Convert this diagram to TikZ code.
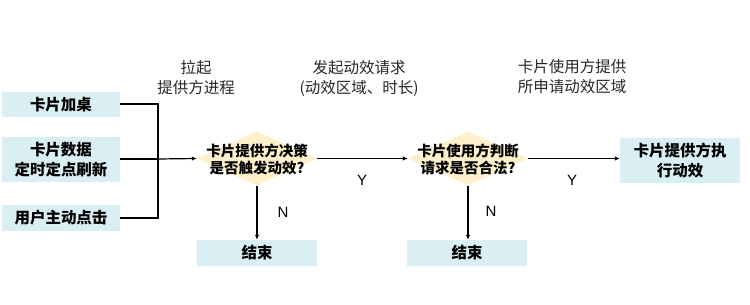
\documentclass[tikz,border=0pt]{standalone}
\usepackage{fontspec}
\setmainfont{Noto Sans CJK SC}
\setsansfont{Liberation Sans}
\usetikzlibrary{shapes.geometric,arrows.meta}
\definecolor{boxblue}{HTML}{DAEFF3}
\definecolor{diayellow}{HTML}{FDF0CA}
\begin{document}
\begin{tikzpicture}[x=1pt,y=-1pt,
  every node/.style={font=\fontsize{14}{17}\selectfont},
  bluebox/.style={fill=boxblue,draw=none,minimum width=118pt,inner sep=0pt,align=center,font=\fontsize{15.5}{20}\selectfont\bfseries},
  dia/.style={diamond,fill=diayellow,draw=none,inner sep=0pt,minimum width=120pt,minimum height=54pt},
  diatext/.style={align=center,inner sep=0pt,font=\fontsize{14.5}{17}\selectfont\bfseries},
  conn/.style={line width=1.2pt,black},
  arr/.style={conn,-{Latex[length=5pt,width=4.5pt]}},
  lbl/.style={align=center,inner sep=0pt,font=\fontsize{15.5}{20}\selectfont,text=black!85},
  yn/.style={inner sep=0pt,font=\sffamily\fontsize{15}{16}\selectfont}]
\useasboundingbox (0,0) rectangle (750,305);
% left boxes
\node[bluebox,minimum height=25pt] (b1) at (61,104.5) {卡片加桌};
\node[bluebox,minimum height=45pt] (b2) at (61,159.5) {卡片数据\\定时定点刷新};
\node[bluebox,minimum height=26pt] (b3) at (61,218) {用户主动点击};
% merge point
\coordinate (m1) at (158,104);
\coordinate (m3) at (158,218);
\coordinate (m2) at (158,159);
% diamonds
\node[dia] (d1) at (257,158.5) {};
\node[diatext] (t1) at (257,159) {卡片提供方决策\\是否触发动效?};
\node[dia] (d2) at (468,158.5) {};
\node[diatext] (t2) at (468,159) {卡片使用方判断\\请求是否合法?};
% final box
\node[bluebox,minimum width=120pt,minimum height=45pt] (f) at (680,160.5) {卡片提供方执\\行动效};
% end boxes
\node[bluebox,minimum width=120pt,minimum height=26pt] (e1) at (257,253) {结束};
\node[bluebox,minimum width=120pt,minimum height=26pt] (e2) at (467,253) {结束};
% connectors
\draw[conn] (b1.east |- m1) -- (m1) -- (m3) -- (b3.east |- m3);
\draw[conn] (b2.east |- m2) -- (m2);
\draw[arr] (m2) -- (d1.west);
\draw[arr] (d1.east) -- (d2.west);
\draw[arr] (d2.east) -- (f.west |- d2.east);
\draw[arr] (d1.south) -- (e1.north);
\draw[arr] (d2.south) -- (e2.north -| d2.south);
% labels
\node[lbl] (l1) at (196,78) {拉起\\提供方进程};
\node[lbl] (l2) at (359,78) {发起动效请求\\(动效区域、时长)};
\node[lbl] (l3) at (572,77) {卡片使用方提供\\所申请动效区域};
\node[yn] (y1) at (362,180) {Y};
\node[yn] (y2) at (572,180) {Y};
\node[yn] (n1) at (283,212) {N};
\node[yn] (n2) at (491,211) {N};
\end{tikzpicture}
\end{document}
